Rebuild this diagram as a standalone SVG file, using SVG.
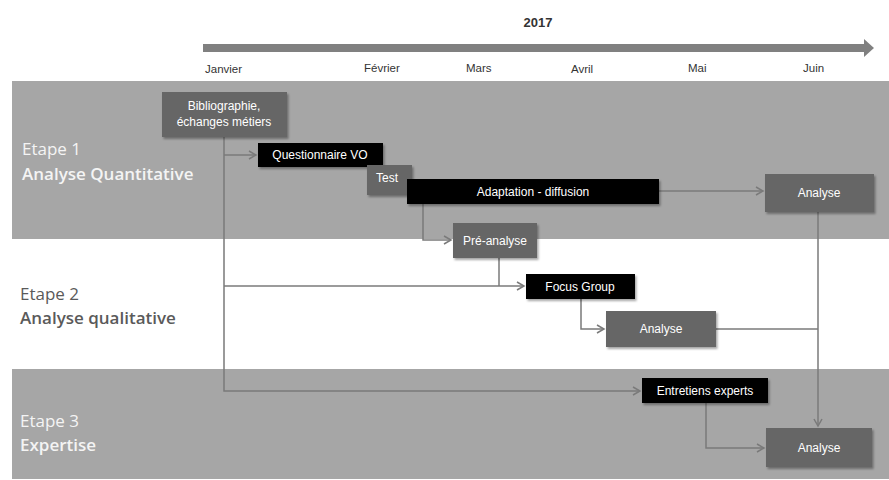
<svg xmlns="http://www.w3.org/2000/svg" width="889" height="480" viewBox="0 0 889 480">
<style>
.band{fill:#a6a6a6}
.month{font-family:"Liberation Sans",Arial,sans-serif;font-size:11.5px;fill:#333}
.stage{font-family:"Open Sans",sans-serif;font-size:17px}
.light{fill:#f4f4f4}
.dark{fill:#5a5a5a}
.b{font-weight:600}
.gray{fill:#666666}
.black{fill:#000000}
.nt{font-family:"Liberation Sans",Arial,sans-serif;font-size:12px;fill:#ffffff;text-anchor:middle}
.conn{fill:none;stroke:#7a7a7a;stroke-width:1.5}
</style>
<defs>
<filter id="sh" x="-10%" y="-10%" width="130%" height="140%">
<feDropShadow dx="1.5" dy="2" stdDeviation="1.2" flood-color="#000" flood-opacity="0.35"/>
</filter>
<marker id="ah" markerWidth="10" markerHeight="10" refX="8" refY="5" orient="auto" markerUnits="userSpaceOnUse">
<polyline points="1,1 8,5 1,9" fill="none" stroke="#7a7a7a" stroke-width="1.5"/>
</marker>
</defs>
<rect width="889" height="480" fill="#ffffff"/>
<g id="bands">
<rect class="band" x="12" y="81" width="877" height="158"/>
<rect class="band" x="12" y="369" width="877" height="110"/>
</g>
<g id="timeline">
<rect x="203" y="44" width="663" height="8" fill="#808080"/>
<polygon points="864,39 874,48 864,57" fill="#808080"/>
<text x="538" y="27" font-family="Liberation Sans,Arial,sans-serif" font-size="13" font-weight="bold" fill="#333" text-anchor="middle">2017</text>
<text class="month" x="205" y="73">Janvier</text>
<text class="month" x="364" y="72">Février</text>
<text class="month" x="466" y="72">Mars</text>
<text class="month" x="571" y="73">Avril</text>
<text class="month" x="688" y="72">Mai</text>
<text class="month" x="803" y="72">Juin</text>
</g>
<g id="stages">
<text class="stage light" x="22" y="155">Etape 1</text>
<text class="stage light b" x="22" y="180">Analyse Quantitative</text>
<text class="stage dark" x="20" y="300">Etape 2</text>
<text class="stage dark b" x="20" y="324">Analyse qualitative</text>
<text class="stage light" x="20" y="427">Etape 3</text>
<text class="stage light b" x="20" y="451">Expertise</text>
</g>
<g id="connectors">
<polyline class="conn" points="224,137 224,391 640,391" marker-end="url(#ah)"/>
<polyline class="conn" points="224,155 256,155" marker-end="url(#ah)"/>
<polyline class="conn" points="224,286 524,286" marker-end="url(#ah)"/>
<polyline class="conn" points="659,191 763,191" marker-end="url(#ah)"/>
<polyline class="conn" points="423,204 423,240 451,240" marker-end="url(#ah)"/>
<polyline class="conn" points="499,258 499,286"/>
<polyline class="conn" points="581,299 581,329 604,329" marker-end="url(#ah)"/>
<polyline class="conn" points="716,329 818,329"/>
<polyline class="conn" points="818,212 818,426" marker-end="url(#ah)"/>
<polyline class="conn" points="706,403 706,448 764,448" marker-end="url(#ah)"/>
</g>
<g id="biblio">
<rect class="gray" x="162" y="92" width="125" height="45" filter="url(#sh)"/>
<text class="nt" x="224" y="110">Bibliographie,</text>
<text class="nt" x="224" y="126">échanges métiers</text>
</g>
<g id="questionnaire">
<rect class="black" x="258" y="143" width="125" height="24" filter="url(#sh)"/>
<text class="nt" x="320" y="159">Questionnaire VO</text>
</g>
<g id="test">
<rect class="gray" x="367" y="165" width="45" height="30" filter="url(#sh)"/>
<text class="nt" x="387" y="182">Test</text>
</g>
<g id="adaptation">
<rect class="black" x="407" y="179" width="252" height="25" filter="url(#sh)"/>
<text class="nt" x="533" y="196">Adaptation - diffusion</text>
</g>
<g id="analyse1">
<rect class="gray" x="765" y="174" width="109" height="38" filter="url(#sh)"/>
<text class="nt" x="819" y="197">Analyse</text>
</g>
<g id="preanalyse">
<rect class="gray" x="453" y="223" width="84" height="35" filter="url(#sh)"/>
<text class="nt" x="495" y="245">Pré-analyse</text>
</g>
<g id="focus">
<rect class="black" x="526" y="274" width="109" height="25" filter="url(#sh)"/>
<text class="nt" x="580" y="291">Focus Group</text>
</g>
<g id="analyse2">
<rect class="gray" x="606" y="311" width="110" height="36" filter="url(#sh)"/>
<text class="nt" x="661" y="333">Analyse</text>
</g>
<g id="entretiens">
<rect class="black" x="642" y="378" width="126" height="25" filter="url(#sh)"/>
<text class="nt" x="705" y="395">Entretiens experts</text>
</g>
<g id="analyse3">
<rect class="gray" x="766" y="428" width="106" height="39" filter="url(#sh)"/>
<text class="nt" x="819" y="452">Analyse</text>
</g>
</svg>
